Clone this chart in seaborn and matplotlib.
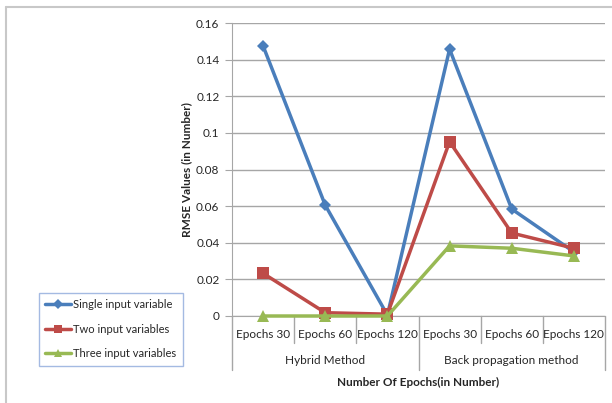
import numpy as np
import pandas as pd
import seaborn as sns
from matplotlib import pyplot as plt
from matplotlib.lines import Line2D

# data
categories = ["Epochs 30", "Epochs 60", "Epochs 120", "Epochs 30", "Epochs 60", "Epochs 120"]
groups = ["Hybrid Method", "Back propagation method"]
series_names = ["Single input variable", "Two input variables", "Three input variables"]
single_input = [0.1475, 0.0605, 0.0005, 0.1457, 0.0584, 0.0350]
two_input = [0.0233, 0.0018, 0.0010, 0.0952, 0.0453, 0.0370]
three_input = [0.0000, 0.0000, 0.0000, 0.0383, 0.0370, 0.0328]
yticks = [0, 0.02, 0.04, 0.06, 0.08, 0.1, 0.12, 0.14, 0.16]
ytick_labels = ["0", "0.02", "0.04", "0.06", "0.08", "0.1", "0.12", "0.14", "0.16"]

colors = ["#4A7EBB", "#BE4B48", "#98B954"]
markers = ["D", "s", "^"]
msizes = [6, 8, 8]

pos = np.arange(len(categories))
df = pd.concat([
    pd.DataFrame({"pos": pos, "rmse": vals, "series": name})
    for name, vals in zip(series_names, [single_input, two_input, three_input])
])

sns.set_style("white")
plt.rcParams["font.family"] = ["Lato", "DejaVu Sans"]

fig = plt.figure(figsize=(6.12, 4.03), dpi=100)
ax = fig.add_axes([232 / 612, 1 - 316 / 403, 373 / 612, 293 / 403])

for name, c, m, ms in zip(series_names, colors, markers, msizes):
    sub = df[df.series == name]
    sns.lineplot(data=sub, x="pos", y="rmse", ax=ax, color=c, marker=m,
                 markersize=ms, markeredgewidth=0, linewidth=2.5,
                 label=name, legend=False, clip_on=False, zorder=3)

ax.set_xlim(-0.5, 5.5)
ax.set_ylim(0, 0.16)
ax.set_yticks(yticks)
ax.set_yticklabels(ytick_labels, fontsize=8.5)
ax.yaxis.grid(True, color="#A6A6A6", linewidth=1)
ax.set_xticks([])
ax.set_xlabel("")
ax.set_ylabel("RMSE Values (in Number)", fontsize=8.5, fontweight="bold", labelpad=3)
ax.tick_params(axis="y", length=5, color="#A6A6A6", direction="out", left=True, pad=4)
for s in ["top", "right"]:
    ax.spines[s].set_visible(False)
ax.spines["left"].set_color("#A6A6A6")
ax.spines["bottom"].set_color("#A6A6A6")

# two-level category axis
trans = ax.get_xaxis_transform()
tick_drop = 27 / 293
group_drop = 54 / 293
for x in np.arange(-0.5, 6.0, 1.0):
    drop = group_drop if x in (-0.5, 2.5, 5.5) else tick_drop
    ax.plot([x, x], [0, -drop], transform=trans, color="#A6A6A6", lw=1, clip_on=False)
for p, lab in zip(pos, categories):
    ax.text(p, -18 / 293, lab, transform=trans, ha="center", va="center", fontsize=8.5)
for g, lab in enumerate(groups):
    ax.text(g * 3 + 1, -44 / 293, lab, transform=trans, ha="center", va="center", fontsize=8.5)
ax.text(2.5, -66 / 293, "Number Of Epochs(in Number)", transform=trans,
        ha="center", va="center", fontsize=8.5, fontweight="bold")

# legend
handles = [Line2D([0], [0], color=c, marker=m, markersize=ms * 0.8, markeredgewidth=0, lw=2.5)
           for c, m, ms in zip(colors, markers, msizes)]
leg = fig.legend(handles, series_names, loc="upper left",
                 bbox_to_anchor=(33 / 612, 1 - 287 / 403), fontsize=8,
                 frameon=True, fancybox=False, handlelength=2.3, handletextpad=0.2,
                 labelspacing=1.2, borderpad=0.6)
leg.get_frame().set_edgecolor("#8EA9DB")
leg.get_frame().set_linewidth(1)

# outer frame lines
fig.add_artist(Line2D([6 / 612, 6 / 612], [0, 1 - 7 / 403], color="#C8C8C8", lw=1.5))
fig.add_artist(Line2D([6 / 612, 1], [1 - 7 / 403, 1 - 7 / 403], color="#C8C8C8", lw=1.5))

fig.savefig("out.png", dpi=100)
